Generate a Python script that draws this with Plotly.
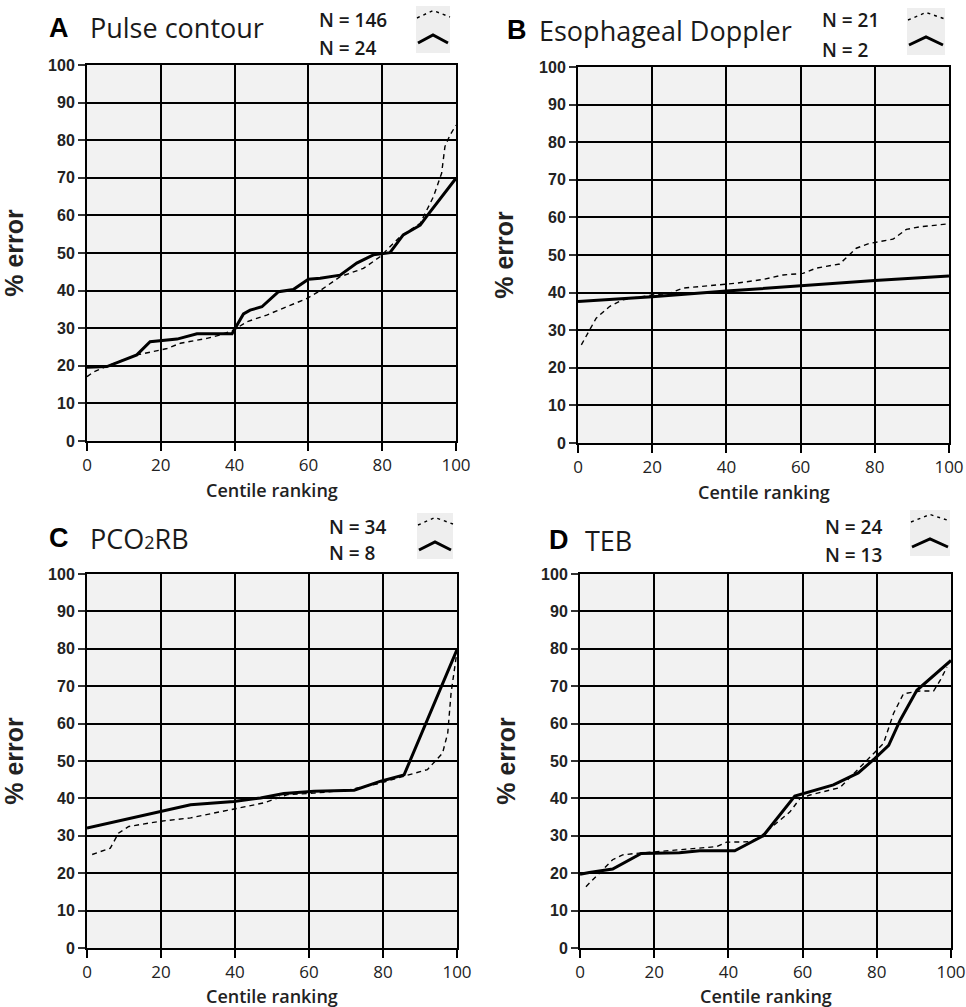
import plotly.graph_objects as go

W, H = 966, 1007

# ---------------- data ----------------
a_solid_x = [0, 5.4, 13.5, 17.1, 24.4, 29.8, 39.3, 42.4, 44.2, 47.4, 51.9, 55.9, 60, 63.2, 68.6, 73.1, 77.6, 82.1, 85.7, 90.3, 92, 100]
a_solid_y = [19.6, 19.8, 22.9, 26.4, 27.1, 28.5, 28.5, 33.8, 34.8, 35.7, 39.7, 40.3, 43, 43.3, 44.1, 47.3, 49.5, 50.1, 54.8, 57.4, 59.7, 69.9]
a_dash_x = [0, 1.8, 5.4, 13.5, 18, 21.7, 25.3, 32.5, 36.1, 39.7, 43.3, 48.7, 54.1, 59.6, 63.2, 68.6, 74.9, 79.4, 84.8, 90.3, 93.9, 96.1, 97, 98.4, 100]
a_dash_y = [17.1, 18.4, 19.9, 22.9, 23.8, 24.6, 26, 27.3, 28.2, 29.5, 31.7, 33.5, 35.7, 37.9, 40, 43.7, 45.9, 49, 54.3, 57.9, 65, 71.2, 78.3, 81.4, 84]

b_solid_x = [0, 20, 40, 60, 80, 100]
b_solid_y = [37.6, 38.9, 40.4, 41.8, 43.2, 44.4]
b_dash_x = [0.9, 3.1, 4.9, 8.5, 12.1, 20.2, 24.7, 28.3, 35.5, 42.7, 49.9, 55.3, 60.6, 64.2, 70.5, 75, 78.6, 84.9, 88.5, 92.1, 99.1]
b_dash_y = [26.1, 30.1, 33.2, 36.3, 38.1, 39.4, 39.8, 41.2, 41.8, 42.5, 43.5, 44.7, 45.1, 46.5, 47.6, 51.8, 53.1, 54.2, 56.8, 57.5, 58.2]

c_solid_x = [0, 20.3, 28, 39.7, 46.9, 53.2, 61.4, 72.2, 79.4, 85.7, 100]
c_solid_y = [32.1, 36.5, 38.3, 39.2, 40.1, 41.3, 41.9, 42.2, 44.6, 46.3, 79.8]
c_dash_x = [1.4, 6.3, 8.5, 11.3, 19.9, 28, 37.9, 47.8, 54.2, 61.4, 70.4, 79.4, 84.8, 92, 96.1, 97.5, 98.4, 100]
c_dash_y = [25, 26.7, 30.7, 32.5, 33.9, 34.8, 36.8, 38.8, 41, 41.4, 42.2, 44.1, 45.7, 47.7, 52.1, 57.5, 68.2, 79.3]

d_solid_x = [0, 2.5, 8.8, 16.5, 26.8, 32.3, 41.7, 49.4, 57.9, 60.2, 68.3, 75, 79.5, 83.2, 86.3, 90.8, 100]
d_solid_y = [19.7, 20.2, 21.1, 25.3, 25.5, 26, 26, 30, 40.6, 41.3, 43.6, 46.8, 50.7, 54.2, 60.9, 68.9, 76.9]
d_dash_x = [1.6, 3.4, 8.8, 11.5, 15.1, 36.8, 39.5, 45.9, 48.6, 56.6, 59.3, 62, 70.1, 81.8, 84.5, 87.2, 91.7, 95.3, 97.1, 98.9]
d_dash_y = [16.4, 18.2, 23.6, 24.9, 25.3, 27.1, 28.3, 28.4, 29.8, 36.4, 40, 40.9, 42.9, 54.7, 62.7, 68, 68.7, 68.7, 71.6, 75.1]

letters = ["A", "B", "C", "D"]
titles = ["Pulse contour", "Esophageal Doppler",
          "PCO<span style='font-size:18px'>2</span>RB", "TEB"]
n_dash = ["N = 146", "N = 21", "N = 34", "N = 24"]
n_solid = ["N = 24", "N = 2", "N = 8", "N = 13"]
x_ticks = [0, 20, 40, 60, 80, 100]
y_ticks = [0, 10, 20, 30, 40, 50, 60, 70, 80, 90, 100]
x_title = "Centile ranking"
y_title = "% error"

series = [
    (a_dash_x, a_dash_y, a_solid_x, a_solid_y),
    (b_dash_x, b_dash_y, b_solid_x, b_solid_y),
    (c_dash_x, c_dash_y, c_solid_x, c_solid_y),
    (d_dash_x, d_dash_y, d_solid_x, d_solid_y),
]

# ---------------- layout geometry (page pixels) ----------------
boxes = [(87, 456, 65, 441), (578, 949, 67, 443), (87, 457, 574, 948), (580, 951, 574, 948)]
letter_pos = [(47, 28), (505, 30), (47, 538), (547, 540)]
title_pos = [(88, 28), (537, 30), (88, 538), (583, 540)]
xtitle_y = [490, 492, 996, 996]
ntext_pos = [(317, 20, 48), (820, 20, 50), (327, 527, 553), (823, 527, 555)]
glyph_box = [(416, 450, 6, 53), (907, 945, 8, 55), (417, 453, 513, 559), (910, 950, 510, 556)]


def px(x):
    return x / W


def py(y):
    return 1 - y / H


fig = go.Figure()
annotations = []
shapes = []

for i, (dx, dy, sx, sy) in enumerate(series):
    suffix = "" if i == 0 else str(i + 1)
    xa, ya = "x" + suffix, "y" + suffix
    fig.add_trace(go.Scatter(x=dx, y=dy, mode="lines", xaxis=xa, yaxis=ya,
                             line=dict(color="black", width=1.4, dash="5px,4px"),
                             showlegend=False, hoverinfo="skip"))
    fig.add_trace(go.Scatter(x=sx, y=sy, mode="lines", xaxis=xa, yaxis=ya,
                             line=dict(color="black", width=3),
                             showlegend=False, hoverinfo="skip"))
    l, r, t, b = boxes[i]
    fig.layout["xaxis" + suffix] = dict(
        domain=[px(l), px(r)], anchor=ya, range=[0, 100], tickvals=x_ticks,
        showgrid=True, gridcolor="black", gridwidth=2, zeroline=False,
        showline=True, mirror=True, linecolor="black", linewidth=2,
        ticks="outside", ticklen=8, tickwidth=2, tickcolor="black",
        ticklabeloverflow="allow",
        tickfont=dict(family="Open Sans", size=17, color="#222", weight=500),
        fixedrange=True)
    fig.layout["yaxis" + suffix] = dict(
        domain=[py(b), py(t)], anchor=xa, range=[0, 100], tickvals=y_ticks,
        showgrid=True, gridcolor="black", gridwidth=2, zeroline=False,
        showline=True, mirror=True, linecolor="black", linewidth=2,
        ticks="outside", ticklen=7, tickwidth=2, tickcolor="#333",
        ticklabeloverflow="allow",
        tickfont=dict(family="Liberation Sans", size=16, color="#222", weight="bold"),
        title=dict(text=y_title, standoff=18,
                   font=dict(family="Liberation Sans", size=25, color="#222", weight="bold")),
        fixedrange=True)

    # x-axis title as an annotation (kept below the tick labels, not pushed up at the page edge)
    annotations.append(dict(text=x_title, x=px((l + r) / 2), y=py(xtitle_y[i]),
                            xref="paper", yref="paper", xanchor="center", yanchor="middle",
                            showarrow=False,
                            font=dict(family="Open Sans", size=18, color="#222", weight=600)))

    lx, ly = letter_pos[i]
    annotations.append(dict(text=letters[i], x=px(lx), y=py(ly), xref="paper", yref="paper",
                            xanchor="left", yanchor="middle", showarrow=False,
                            font=dict(family="Liberation Sans", size=27, color="black", weight="bold")))
    tx, ty = title_pos[i]
    annotations.append(dict(text=titles[i], x=px(tx), y=py(ty), xref="paper", yref="paper",
                            xanchor="left", yanchor="middle", showarrow=False,
                            font=dict(family="Open Sans", size=27, color="#1a1a1a", weight=500)))
    nx, ny1, ny2 = ntext_pos[i]
    annotations.append(dict(text=n_dash[i], x=px(nx), y=py(ny1), xref="paper", yref="paper",
                            xanchor="left", yanchor="middle", showarrow=False,
                            font=dict(family="Open Sans", size=19, color="#1a1a1a", weight=600)))
    annotations.append(dict(text=n_solid[i], x=px(nx), y=py(ny2), xref="paper", yref="paper",
                            xanchor="left", yanchor="middle", showarrow=False,
                            font=dict(family="Open Sans", size=19, color="#1a1a1a", weight=600)))

    gl, gr, gt, gb = glyph_box[i]
    shapes.append(dict(type="rect", xref="paper", yref="paper", x0=px(gl), x1=px(gr),
                       y0=py(gb), y1=py(gt), fillcolor="#eeeeee", line=dict(width=0), layer="below"))
    gc = (gl + gr) / 2
    dash_path = "M {} {} L {} {} L {} {}".format(px(gl + 1), py(gt + 12), px(gc), py(gt + 4.5),
                                                px(gr), py(gt + 11))
    solid_path = "M {} {} L {} {} L {} {}".format(px(gl + 2), py(gt + 37), px(gc), py(gt + 29),
                                                 px(gr - 2), py(gt + 37))
    shapes.append(dict(type="path", xref="paper", yref="paper", path=dash_path,
                       line=dict(color="black", width=1.4, dash="3px,4px")))
    shapes.append(dict(type="path", xref="paper", yref="paper", path=solid_path,
                       line=dict(color="black", width=3)))

fig.update_layout(
    width=W, height=H, margin=dict(l=0, r=0, t=0, b=0, autoexpand=False),
    paper_bgcolor="white", plot_bgcolor="#f2f2f2",
    annotations=annotations, shapes=shapes, showlegend=False,
)

fig.write_html("out.html", config={"displayModeBar": False},
               post_script="document.body.style.margin='0';document.body.style.overflow='hidden';")
